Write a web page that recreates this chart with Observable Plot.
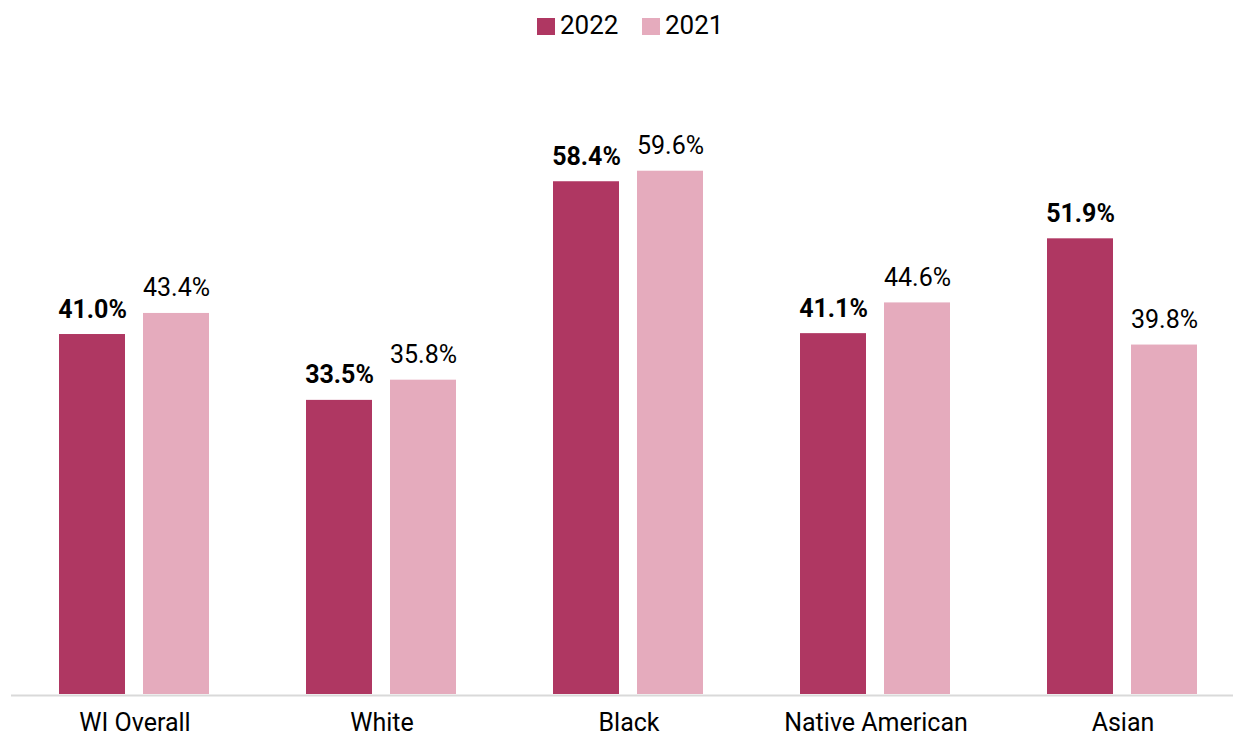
<!DOCTYPE html>
<html>
<head>
<meta charset="utf-8">
<script src="https://cdn.jsdelivr.net/npm/d3@7"></script>
<script src="https://cdn.jsdelivr.net/npm/@observablehq/plot@0.6"></script>
<style>
  body { margin: 0; background: #fff; font-family: Roboto, sans-serif; }
  #wrap { position: relative; width: 1233px; height: 738px; }
  #legend { position: relative; height: 50px; }
  .item { position: absolute; top: 10px; display: flex; align-items: center; font-size: 26px; color: #000; }
  .sw { width: 18px; height: 17px; margin-right: 5px; margin-top: 2px; }
  svg { display: block; }
</style>
</head>
<body>
<div id="wrap">
  <div id="legend"></div>
  <div id="chart"></div>
</div>
<script>
const categories = ["WI Overall", "White", "Black", "Native American", "Asian"];
const years = ["2022", "2021"];
const values2022 = [41.0, 33.5, 58.4, 41.1, 51.9];
const values2021 = [43.4, 35.8, 59.6, 44.6, 39.8];
const colors = {"2022": "#AF3762", "2021": "#E5ABBD"};

const data = [];
categories.forEach((c, i) => {
  data.push({cat: c, year: "2022", v: values2022[i]});
  data.push({cat: c, year: "2021", v: values2021[i]});
});

// legend
const legend = document.getElementById("legend");
const legendPos = {"2022": 537, "2021": 642};
years.forEach(y => {
  const it = document.createElement("div");
  it.className = "item";
  it.style.left = legendPos[y] + "px";
  it.innerHTML = `<div class="sw" style="background:${colors[y]}"></div><span>${y}</span>`;
  legend.appendChild(it);
});

const fmt = d => d.v.toFixed(1) + "%";

const chart = Plot.plot({
  width: 1233,
  height: 688,
  marginTop: 29.4,
  marginBottom: 44,
  marginLeft: 0,
  marginRight: 0,
  style: {fontFamily: "Roboto, sans-serif", fontSize: "25px", color: "#000", background: "#fff"},
  facet: {marginLeft: 0, marginRight: 0, marginTop: 0, marginBottom: 0},
  fx: {domain: categories, range: [9, 1247], paddingInner: 0, paddingOuter: 0, label: null, tickSize: 0, tickPadding: 19, axis: "bottom"},
  x: {domain: years, paddingInner: 0.212, paddingOuter: 0.561, axis: null},
  y: {domain: [0, 70], axis: null},
  color: {domain: years, range: years.map(y => colors[y])},
  marks: [
    Plot.ruleY([0], {stroke: "#d9d9d9", strokeWidth: 2, dy: 1}),
    Plot.barY(data, {fx: "cat", x: "year", y: "v", fill: "year"}),
    Plot.text(data.filter(d => d.year === "2022"), {fx: "cat", x: "year", y: "v", text: fmt, lineAnchor: "bottom", dy: -17, fontWeight: "bold", fill: "#000", fontSize: 25}),
    Plot.text(data.filter(d => d.year === "2021"), {fx: "cat", x: "year", y: "v", text: fmt, lineAnchor: "bottom", dy: -17, fill: "#000", fontSize: 25})
  ]
});
document.getElementById("chart").appendChild(chart);
</script>
</body>
</html>
